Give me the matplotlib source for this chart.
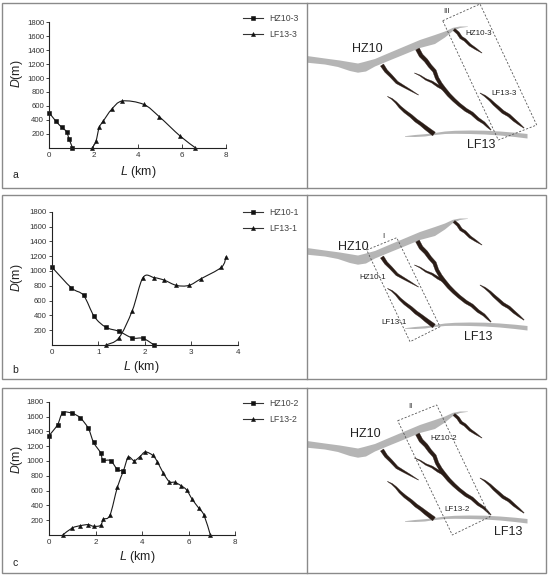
import numpy as np
import matplotlib
matplotlib.use("Agg")
import matplotlib.pyplot as plt
from matplotlib.path import Path
from matplotlib.patches import PathPatch, Polygon, Rectangle
from matplotlib.lines import Line2D

plt.rcParams['font.family'] = ['Liberation Sans', 'DejaVu Sans']
plt.rcParams['mathtext.fontset'] = 'custom'
plt.rcParams['mathtext.it'] = 'Liberation Sans:italic'
plt.rcParams['mathtext.rm'] = 'Liberation Sans'

# ---------------- data ----------------
a_hz_x = [0, 0.3, 0.57, 0.78, 0.9, 1.05]
a_hz_y = [500, 380, 290, 230, 120, 0]
a_lf_x = [1.95, 2.11, 2.26, 2.45, 2.82, 3.3, 4.27, 4.98, 5.92, 6.61]
a_lf_y = [0, 90, 290, 385, 550, 670, 622, 445, 168, 0]

b_hz_x = [0, 0.42, 0.68, 0.91, 1.16, 1.44, 1.73, 1.96, 2.2]
b_hz_y = [1050, 770, 670, 385, 240, 185, 95, 90, 0]
b_lf_x = [1.16, 1.44, 1.73, 1.96, 2.2, 2.42, 2.68, 2.95, 3.21, 3.65, 3.75]
b_lf_y = [0, 95, 465, 910, 910, 875, 805, 805, 895, 1050, 1195]

c_hz_x = [0, 0.37, 0.59, 1.0, 1.35, 1.69, 1.92, 2.22, 2.32, 2.65, 2.94, 3.2]
c_hz_y = [1340, 1490, 1650, 1643, 1580, 1440, 1250, 1110, 1013, 1004, 887, 864]
c_lf_x = [0.59, 1.0, 1.35, 1.69, 1.92, 2.22, 2.34, 2.62, 2.94, 3.2, 3.41, 3.66,
          3.91, 4.14, 4.46, 4.66, 4.92, 5.18, 5.42, 5.68, 5.92, 6.16, 6.45, 6.67, 6.94]
c_lf_y = [0, 95, 126, 140, 117, 130, 212, 266, 644, 864, 1049, 1004,
          1058, 1121, 1076, 990, 833, 720, 711, 666, 608, 482, 360, 266, 0]

y_ticks = [200, 400, 600, 800, 1000, 1200, 1400, 1600, 1800]
x_ticks_8 = [0, 2, 4, 6, 8]
x_ticks_4 = [0, 1, 2, 3, 4]
panel_letters = ['a', 'b', 'c']
legend_a = ['HZ10-3', 'LF13-3']
legend_b = ['HZ10-1', 'LF13-1']
legend_c = ['HZ10-2', 'LF13-2']

# ---------------- sketch map geometry (pixel space, row a) ----------------
hz10_top = [(307, 56), (325, 58.5), (340, 60.5), (352, 62.5), (358, 63.5), (364, 62), (375, 59),
            (390, 52.6), (405, 46.3), (420, 40), (435, 35), (445, 31.5), (453, 27.8), (460, 26.5), (468, 26.5)]
hz10_bot = [(468, 26.8), (460, 28), (453, 31), (445, 37.5), (435, 44), (420, 48), (405, 54.2), (390, 60.3),
            (375, 66.5), (366, 71.5), (358, 72.7), (350, 71), (338, 67), (325, 64.5), (307, 62.7)]
lf13_top = [(405, 136.2), (415, 135), (425, 134.2), (435, 133), (445, 131.5), (455, 130.8), (470, 130.5),
            (485, 130.7), (500, 131.5), (515, 132.7), (527.5, 134)]
lf13_bot = [(527.5, 138.5), (515, 137), (500, 135.5), (485, 134.5), (470, 134), (455, 133.8), (445, 134),
            (435, 135), (425, 136.5), (415, 137), (405, 136.8)]

faults = [
    ([(454, 29.5), (458, 33), (461, 37.5), (465, 40), (470, 45), (476, 49), (482, 53)],
     [2.8, 3, 3, 2.8, 2.5, 1.8, 0.3]),
    ([(382, 65), (386, 71), (391, 76), (397, 82.5), (403, 86), (410, 90), (418.5, 95)],
     [3.8, 3.4, 3.1, 2.8, 2.2, 1.5, 0.3]),
    ([(417.5, 49), (421, 55.5), (426, 60.5), (430, 66), (434.5, 71), (437, 78), (440.5, 84), (444, 89),
      (449, 95), (454, 100), (459, 104.5), (466, 110), (472, 113.5), (478, 119), (484, 123), (488, 127), (491, 130)],
     [4.2, 4.2, 4, 3.8, 3.8, 3.6, 3.6, 4, 3.8, 3.6, 3.4, 3.4, 3.2, 3, 2.5, 1.8, 0.6]),
    ([(414.5, 73), (420, 75.5), (426, 79.5), (432, 82), (438, 86), (444, 89)],
     [0.3, 1, 1.6, 2, 2.5, 3]),
    ([(387.5, 96.5), (392, 99), (396, 102.5), (400, 107), (405, 111.5), (411, 116), (416, 120.5),
      (421, 124), (426, 128), (430, 131), (434, 134)],
     [0.3, 1.2, 1.8, 2.5, 3, 3.2, 3.5, 3.5, 4, 4.2, 4.5]),
    ([(480, 93), (485, 96), (490, 100), (494, 104), (498, 107.5), (503, 112), (509, 115.5),
      (514, 120), (519, 124), (524, 128)],
     [0.3, 1.5, 2.2, 2.8, 3, 3.2, 3, 2.8, 2, 0.6]),
]

row_offsets = [0, 192, 385]
row_boxes = [(3, 188), (195, 379), (388, 573)]

boxes = [
    [(442.7, 20.7), (480, 4), (536.7, 125), (498.3, 140)],
    [(366.7, 58), (396.7, 45.7), (440, 134.7), (410, 149.7)],
    [(397.7, 35.7), (436.7, 20), (490, 131.7), (452.3, 150)],
]
box_names = ['III', 'I', 'II']
box_name_pos = [(446.7, 11.7), (383.3, 44), (410, 21)]
hz_label_pos = [(351.7, 49), (337.7, 54.7), (350, 49)]
lf_label_pos = [(466.7, 145), (464, 145.3), (494, 146.7)]
sub_hz_pos = [(465, 33.3), (359, 85.3), (430, 53.3)]
sub_lf_pos = [(491, 93.3), (381, 130.3), (444.3, 124.3)]

# axes pixel positions: x0, x1, y_zero, y_top
axes_px = [(49.3, 226, 147.7, 22.3), (52, 237.7, 345, 211.7), (49, 235, 535, 401.7)]
xlims = [8, 4, 8]
legend_y = [20, 214, 405]
dlabel_pos = [(17, 74), (17, 277.5), (17, 460)]
llabel_pos = [(138, 171.7), (141.7, 366.7), (137.5, 557)]
letter_pos = [(15, 175), (15, 370), (15, 562.7)]

W, H = 550, 576
fig = plt.figure(figsize=(5.5, 5.76), dpi=100)
bg = fig.add_axes([0, 0, 1, 1])
bg.set_xlim(0, W)
bg.set_ylim(H, 0)
bg.axis('off')

GRAY_BAND = '#b5b5b5'
FAULT = '#2a1c16'
TXT = '#222222'
SQ_MS, TR_MS = 2.6, 2.9


def tapered(points, widths, dy):
    P = np.array(points, float)
    P[:, 1] += dy
    w = np.array(widths, float) / 2.0
    d = np.gradient(P, axis=0)
    n = np.column_stack([-d[:, 1], d[:, 0]])
    n /= np.linalg.norm(n, axis=1)[:, None]
    left = P + n * w[:, None]
    right = P - n * w[:, None]
    return np.vstack([left, right[::-1]])


def shifted(pts, dy):
    return [(x, y + dy) for x, y in pts]


def smooth_path(x, y):
    P = np.column_stack([x, y]).astype(float)
    n = len(P)
    verts = [P[0]]
    codes = [Path.MOVETO]
    for i in range(n - 1):
        p0 = P[i - 1] if i > 0 else P[i]
        p1 = P[i]
        p2 = P[i + 1]
        p3 = P[i + 2] if i + 2 < n else P[i + 1]
        verts += [p1 + (p2 - p0) / 6.0, p2 - (p3 - p1) / 6.0, p2]
        codes += [Path.CURVE4] * 3
    return Path(verts, codes)


series = [((a_hz_x, a_hz_y), (a_lf_x, a_lf_y), legend_a),
          ((b_hz_x, b_hz_y), (b_lf_x, b_lf_y), legend_b),
          ((c_hz_x, c_hz_y), (c_lf_x, c_lf_y), legend_c)]

for r in range(3):
    dy = row_offsets[r]
    top, bot = row_boxes[r]
    # frames
    bg.add_patch(Rectangle((2, top), 544, bot - top, fill=False, ec='#8a8a8a', lw=1.0))
    bg.plot([307, 307], [top, bot], color='#8a8a8a', lw=1.0)
    # map
    bg.add_patch(Polygon(shifted(hz10_top + hz10_bot, dy), closed=True, fc=GRAY_BAND, ec='none'))
    bg.add_patch(Polygon(shifted(lf13_top + lf13_bot, dy), closed=True, fc=GRAY_BAND, ec='none'))
    for pts, ws in faults:
        bg.add_patch(Polygon(tapered(pts, ws, dy), closed=True, fc=FAULT, ec=FAULT, lw=0.2))
    bx = shifted(boxes[r], dy)
    bg.add_patch(Polygon(bx, closed=True, fill=False, ec='#555555', lw=0.6, ls=(0, (2.5, 2))))
    bg.text(box_name_pos[r][0], box_name_pos[r][1] + dy, box_names[r], fontsize=5.5, color=TXT,
            ha='center', va='center')
    bg.text(hz_label_pos[r][0], hz_label_pos[r][1] + dy, 'HZ10', fontsize=9, color=TXT, ha='left', va='center')
    bg.text(lf_label_pos[r][0], lf_label_pos[r][1] + dy, 'LF13', fontsize=9, color=TXT, ha='left', va='center')
    names = series[r][2]
    bg.text(sub_hz_pos[r][0], sub_hz_pos[r][1] + dy, names[0], fontsize=5.8, color=TXT, ha='left', va='center')
    bg.text(sub_lf_pos[r][0], sub_lf_pos[r][1] + dy, names[1], fontsize=5.8, color=TXT, ha='left', va='center')

    # labels
    bg.text(dlabel_pos[r][0], dlabel_pos[r][1], r'$\it{D}$(m)', fontsize=8.8, color=TXT,
            rotation=90, ha='center', va='center')
    bg.text(llabel_pos[r][0], llabel_pos[r][1], r'$\it{L}$ (km)', fontsize=9, color=TXT,
            ha='center', va='center')
    bg.text(letter_pos[r][0], letter_pos[r][1], panel_letters[r], fontsize=7.5, color=TXT,
            ha='center', va='center')

    # data axes
    x0, x1, yz, yt = axes_px[r]
    ax = fig.add_axes([x0 / W, 1 - yz / H, (x1 - x0) / W, (yz - yt) / H])
    ax.set_facecolor('none')
    ax.set_xlim(0, xlims[r])
    ax.set_ylim(0, 1800)
    for s in ['top', 'right']:
        ax.spines[s].set_visible(False)
    for s in ['left', 'bottom']:
        ax.spines[s].set_linewidth(0.8)
        ax.spines[s].set_color('#222222')
    ax.set_yticks(y_ticks)
    ax.set_xticks(x_ticks_8 if xlims[r] == 8 else x_ticks_4)
    ax.tick_params(axis='y', direction='out', length=2.5, width=0.6, pad=1.2, labelsize=5.6,
                   labelcolor='#333333', color='#222222')
    ax.tick_params(axis='x', direction='in', length=3, width=0.6, pad=3, labelsize=5.8,
                   labelcolor='#333333', color='#222222')

    (hx, hy), (lx, ly), names = series[r]
    for (sx, sy), mk, ms in (((hx, hy), 's', SQ_MS), ((lx, ly), '^', TR_MS)):
        ax.add_patch(PathPatch(smooth_path(sx, sy), fill=False, ec='#1a1a1a', lw=0.8,
                               transform=ax.transData, clip_on=False))
        ax.plot(sx, sy, ls='none', marker=mk, ms=ms, mew=0.4, color='#111111', clip_on=False)

    handles = [Line2D([], [], color='#333333', lw=0.8, marker='s', ms=SQ_MS, mew=0.4,
                      markerfacecolor='#111111', markeredgecolor='#111111'),
               Line2D([], [], color='#333333', lw=0.8, marker='^', ms=TR_MS, mew=0.4,
                      markerfacecolor='#111111', markeredgecolor='#111111')]
    leg = fig.legend(handles, names, loc='upper left',
                     bbox_to_anchor=(243 / W, 1 - (legend_y[r] - 6) / H),
                     frameon=False, fontsize=6.3, handlelength=2.3, handletextpad=0.7,
                     labelspacing=0.75, borderpad=0, borderaxespad=0, numpoints=1)
    for t in leg.get_texts():
        t.set_color('#444444')

fig.savefig('out.png', dpi=100)
